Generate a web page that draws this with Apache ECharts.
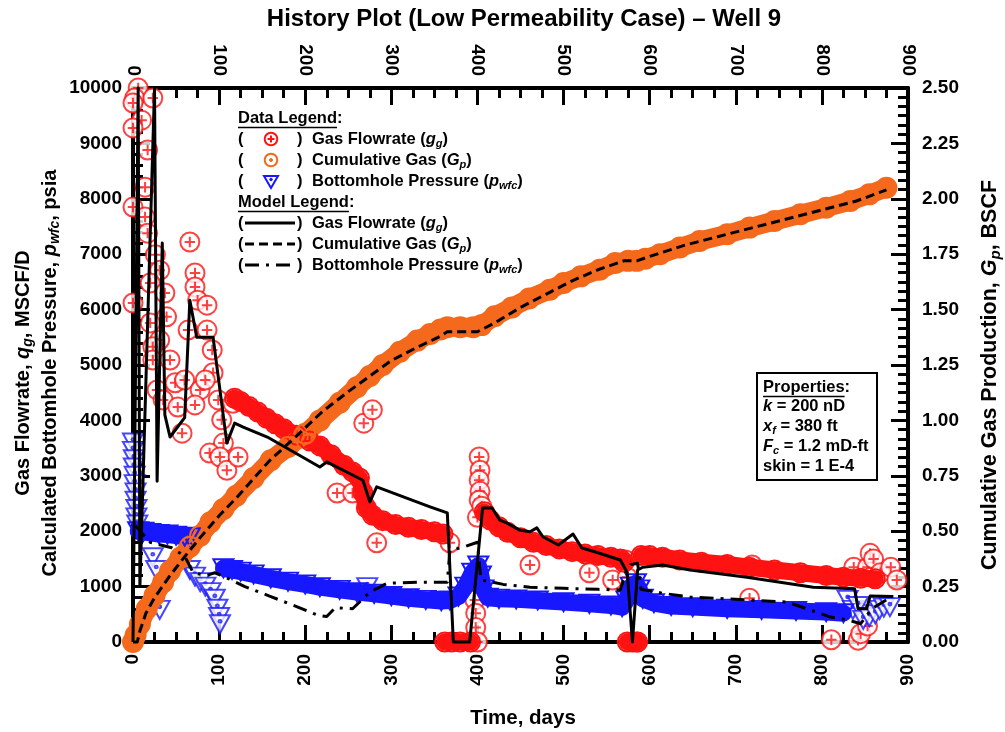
<!DOCTYPE html>
<html>
<head>
<meta charset="utf-8">
<script src="https://cdn.jsdelivr.net/npm/echarts@6/dist/echarts.min.js"></script>
<style>
  html, body { margin: 0; padding: 0; background: #fff; }
  #chart { width: 1005px; height: 732px; }
</style>
</head>
<body>
<div id="chart"></div>
<script>
// ---------------- field data, [day, value] ----------------
// Gas flowrate, MSCF/D: scattered / isolated observations
const gasRateScatter = [
  [6,10000],[2,9820],[23,9820],[0,9730],[10,9420],[0,9280],[17,8880],[14,8210],[0,7850],[14,7670],
  [17,7380],[26,6990],[31,6710],[20,6480],[37,6300],[0,6120],[39,5870],[20,5760],[31,5450],[23,5330],
  [23,5090],[43,5090],[28,4550],[49,4680],[35,4370],[52,4240],[57,3770],[60,4730],[64,5630],[66,7220],
  [72,6660],[72,6410],[75,6170],[86,6080],[86,5630],[92,5270],[93,4860],[78,4550],[72,4280],[84,4730],
  [99,4370],[103,4010],[105,3590],[89,3410],[101,3340],[109,3100],[116,4310],[122,3340],
  [237,2690],[255,2690],[268,3950],[278,4190],[283,1790],
  [368,1790],[397,760],[398,520],[398,260],[400,0],[402,3340],[403,3100],[402,2920],[403,2720],
  [402,2560],[400,2250],[405,2450],[461,1390],[530,1250],[557,1120],
  [572,1480],[574,1170],[585,0],
  [716,790],[719,1390],[811,40],[837,1350],[842,30],[845,150],[853,290],[853,1350],[856,1600],
  [857,1170],[860,1500],[868,1250],[880,1350],[887,1120]
];
// Gas flowrate, MSCF/D: continuous daily runs
const gasRateRuns = [
  [[118,4400],[125,4340],[135,4250],[145,4150],[155,4040],[165,3940],[175,3850],[190,3730],[205,3630],
   [217,3540],[230,3380],[245,3190],[255,3070],[263,2960],[267,2700],[271,2420],[278,2290],[290,2190],
   [305,2120],[320,2070],[335,2030],[350,1990],[360,1950]],
  [[362,0],[370,0],[380,0],[392,0]],
  [[408,2350],[415,2200],[425,2080],[435,1980],[450,1880],[465,1800],[480,1740],[495,1680],[510,1630],
   [525,1590],[540,1560],[555,1530],[566,1500],[570,1440]],
  [[574,0],[580,0],[586,0]],
  [[590,1560],[600,1560],[615,1530],[635,1480],[660,1440],[690,1400],[716,1350],[745,1300],[775,1250],
   [805,1200],[825,1170],[845,1150],[862,1140]]
];
// Bottomhole pressure, psia: isolated observations
const pressureScatter = [
  [0,3600],[0,3450],[1,3300],[1,3150],[2,3000],[2,2850],[3,2700],[3,2550],[4,2400],[4,2250],[5,2120],
  [23,1530],[27,1300],[31,580],[66,1300],[72,1180],[78,1080],[84,1000],[90,900],[95,780],[98,600],
  [100,450],[101,320],[272,990],
  [830,760],[836,580],[842,650],[848,400],[855,450],[862,500],[867,580],[872,620],[879,630]
];
// Bottomhole pressure, psia: continuous daily runs
const pressureRuns = [
  [[6,2000],[12,1990],[20,1970],[30,1950],[40,1940],[50,1920],[60,1900],[66,1890]],
  [[105,1330],[115,1300],[125,1270],[140,1220],[160,1150],[180,1090],[200,1040],[217,990],[240,940],
   [260,900],[280,870],[300,830],[320,790],[340,760],[358,740],[368,750],[378,820],[386,1000],[394,1250],
   [401,1380],[404,1200],[407,950],[412,800],[425,780],[445,770],[470,750],[500,720],[530,690],[555,660],
   [568,630],[573,750],[578,1000],[584,1060],[588,950],[592,780],[605,700],[625,650],[650,630],[690,600],
   [730,580],[770,560],[805,540],[825,520]]
];
// Cumulative gas, BSCF
const cumGas = [
  [0,0],[3,0.03],[8,0.08],[16,0.15],[25,0.21],[35,0.27],[43,0.32],[55,0.38],[66,0.43],[78,0.48],
  [90,0.54],[105,0.60],[120,0.66],[140,0.74],[160,0.82],[180,0.88],[200,0.94],[217,1.00],[240,1.08],
  [260,1.15],[275,1.20],[290,1.25],[310,1.31],[330,1.36],[345,1.39],[357,1.41],[365,1.42],[380,1.42],
  [395,1.42],[405,1.43],[420,1.47],[440,1.51],[460,1.55],[484,1.59],[500,1.62],[520,1.65],[542,1.68],
  [560,1.71],[575,1.72],[585,1.72],[595,1.73],[612,1.75],[635,1.78],[658,1.81],[690,1.84],[716,1.87],
  [745,1.90],[775,1.93],[805,1.96],[833,1.99],[855,2.02],[875,2.05]
];

// ---------------- model results ----------------
const modelRate = [
  [0,0],[6,10000],[8,1000],[25,10000],[28,2900],[34,7200],[37,4100],[43,3700],[60,4050],[66,6170],
  [74,5500],[93,5500],[109,3590],[118,3950],[128,3880],[156,3700],[217,3160],[225,3250],[267,2920],
  [275,2530],[283,2800],[345,2440],[365,2330],[372,0],[391,0],[406,2420],[417,2420],[426,2200],
  [434,2150],[449,2020],[461,1990],[469,2060],[476,1900],[494,1750],[511,1950],[521,1700],[538,1620],
  [566,1480],[574,1250],[580,0],[586,1300],[592,1350],[615,1390],[647,1300],[713,1170],[790,990],
  [838,960],[842,600],[852,600],[856,830],[883,820]
];
const modelCum = [
  [0,0],[5,0.0],[8,0.05],[15,0.13],[25,0.20],[43,0.30],[63,0.40],[80,0.48],[100,0.57],[120,0.65],
  [159,0.82],[190,0.93],[220,1.04],[250,1.13],[275,1.20],[300,1.27],[330,1.33],[357,1.38],[365,1.40],
  [400,1.40],[420,1.44],[450,1.51],[480,1.57],[510,1.63],[540,1.68],[570,1.72],[585,1.72],[600,1.74],
  [640,1.79],[680,1.83],[720,1.87],[760,1.91],[800,1.95],[840,1.99],[875,2.04]
];
const modelPressure = [
  [3,2100],[20,1800],[45,1700],[60,1550],[70,1250],[85,1200],[95,1250],[110,1150],[130,1000],[160,820],
  [190,640],[215,480],[225,460],[235,620],[255,600],[275,900],[295,1060],[330,1080],[365,1080],[368,1650],
  [385,1720],[400,1800],[404,1120],[430,1040],[461,990],[500,970],[540,950],[566,940],[572,1250],
  [578,1400],[586,1420],[590,950],[615,880],[647,810],[713,760],[760,720],[790,560],[810,450],[830,400],
  [845,330],[858,600],[875,760]
];

// ---------------- axis ranges ----------------
const timeRange = { min: 0, max: 900, step: 100 };
const rateRange = { min: 0, max: 10000, step: 1000 };
const cumRange  = { min: 0, max: 2.5, step: 0.25 };

// ---------------- styling ----------------
const RED = '#ff1212', BLUE = '#1818ff', ORANGE = '#f4691c', BLACK = '#000';
const FONT = '"Liberation Sans", Arial, Helvetica, sans-serif';
const SYM_PLUS = 'path://M0,-10A10,10,0,1,1,0,10A10,10,0,1,1,0,-10ZM-5.5,0L5.5,0M0,-5.5L0,5.5';
const SYM_DOT  = 'path://M0,-10A10,10,0,1,1,0,10A10,10,0,1,1,0,-10ZM0,-1.6A1.6,1.6,0,1,1,0,1.6A1.6,1.6,0,1,1,0,-1.6Z';
const SYM_TRI  = 'path://M-10,-8L10,-8L0,10ZM0,-3.4A1.4,1.4,0,1,1,0,-0.6A1.4,1.4,0,1,1,0,-3.4Z';
const DASH = [9, 5];
const DASH_DOT = [14, 7, 3, 7];

const base = { silent: true, animation: false, clip: false, emphasis: { disabled: true } };

// dense daily observations: a wide stroke through the run plus the outline markers
function runSeries(run, color, symbol, size, width, yIdx) {
  return Object.assign({}, base, {
    type: 'line', data: run, yAxisIndex: yIdx,
    symbol: symbol, symbolSize: size, showSymbol: true,
    lineStyle: { color: color, width: width, cap: 'round', join: 'round' },
    itemStyle: { color: 'rgba(255,255,255,0)', borderColor: color, borderWidth: 2 }
  });
}
function scatterSeries(data, color, symbol, size, yIdx) {
  return Object.assign({}, base, {
    type: 'scatter', data: data, yAxisIndex: yIdx,
    symbol: symbol, symbolSize: size,
    itemStyle: { color: '#fff', borderColor: color, borderWidth: 2 }
  });
}
function modelSeries(data, type, yIdx) {
  return Object.assign({}, base, {
    type: 'line', data: data, yAxisIndex: yIdx, showSymbol: false, symbol: 'none', z: 5,
    lineStyle: { color: BLACK, width: 3, type: type, join: 'round' }
  });
}

const series = [];
gasRateRuns.forEach(r => series.push(runSeries(r, RED, SYM_PLUS, 19, 17, 0)));
series.push(scatterSeries(gasRateScatter, RED, SYM_PLUS, 19, 0));
pressureRuns.forEach(r => series.push(runSeries(r, BLUE, SYM_TRI, [20, 18], 17, 0)));
series.push(scatterSeries(pressureScatter, BLUE, SYM_TRI, [20, 18], 0));
series.push(runSeries(cumGas, ORANGE, SYM_DOT, 20, 19, 1));
series.push(scatterSeries(cumGas.slice(-1), ORANGE, SYM_DOT, 19, 1));
series.push(modelSeries(modelRate, 'solid', 0));
series.push(modelSeries(modelCum, DASH, 1));
series.push(modelSeries(modelPressure, DASH_DOT, 0));

// ---------------- axes ----------------
function axis(extra) {
  return Object.assign({
    type: 'value',
    axisLine: { show: true, onZero: false, lineStyle: { color: BLACK, width: 4 } },
    axisTick: { show: true, inside: true, length: 17, lineStyle: { color: BLACK, width: 3 } },
    minorTick: { show: true, length: 10, lineStyle: { color: BLACK, width: 3 } },
    splitLine: { show: false },
    minorSplitLine: { show: false },
    axisLabel: { color: BLACK, fontFamily: FONT, fontWeight: 'bold', fontSize: 19 }
  }, extra);
}
const timeAxis = pos => axis({
  position: pos, min: timeRange.min, max: timeRange.max, interval: timeRange.step,
  minorTick: { show: true, splitNumber: 4, length: 10, lineStyle: { color: BLACK, width: 3 } },
  axisLabel: { color: BLACK, fontFamily: FONT, fontWeight: 'bold', fontSize: 19, rotate: 90, margin: 12,
               formatter: v => String(v) }
});

// ---------------- text helpers ----------------
function textWidth(str, font) {
  const ctx = document.createElement('canvas').getContext('2d');
  ctx.font = font;
  return ctx.measureText(str).width;
}
const rich = size => ({
  i: { fontStyle: 'italic', fontWeight: 'bold', fontSize: size, fontFamily: FONT, fill: BLACK },
  s: { fontStyle: 'italic', fontWeight: 'bold', fontSize: Math.round(size * 0.68), fontFamily: FONT,
       fill: BLACK, verticalAlign: 'bottom', lineHeight: Math.round(size * 0.62) }
});
function label(x, y, text, size, opts) {
  return {
    type: 'text', x: x, y: y, z: 100, silent: true,
    style: Object.assign({
      text: text, fill: BLACK, fontFamily: FONT, fontWeight: 'bold', fontSize: size,
      lineHeight: Math.round(size * 1.25), align: 'left', verticalAlign: 'middle', rich: rich(size)
    }, opts || {})
  };
}
function rotated(x, y, text, size) {
  const t = label(0, 0, text, size, { align: 'center' });
  t.x = x; t.y = y; t.rotation = Math.PI / 2;
  return t;
}
function underlined(x, y, head, size) {
  const w = textWidth(head, 'bold ' + size + 'px ' + FONT);
  return [
    label(x, y, head + ':', size),
    { type: 'line', z: 100, silent: true,
      shape: { x1: x, y1: y + size * 0.58, x2: x + w, y2: y + size * 0.58 },
      style: { stroke: BLACK, lineWidth: 1.6 } }
  ];
}

// ---------------- legend ----------------
const LX = 238, LS = 16.5;
const legendRows = [118, 139, 160, 181, 202, 223, 244, 265];
const graphics = [];
graphics.push(...underlined(LX, legendRows[0], 'Data Legend', LS));
const dataKeys = [
  { y: legendRows[1], color: RED, kind: 'plus', text: 'Gas Flowrate ({i|g}{s|g})' },
  { y: legendRows[2], color: ORANGE, kind: 'dot', text: 'Cumulative Gas ({i|G}{s|p})' },
  { y: legendRows[3], color: BLUE, kind: 'tri', text: 'Bottomhole Pressure ({i|p}{s|wfc})' }
];
dataKeys.forEach(k => {
  graphics.push(label(LX, k.y, '(', LS));
  graphics.push(label(297, k.y, ')', LS));
  graphics.push(label(312, k.y, k.text, LS));
  const cx = 271, cy = k.y, st = { fill: '#fff', stroke: k.color, lineWidth: 2 };
  if (k.kind === 'tri') {
    graphics.push({ type: 'polygon', z: 100, silent: true,
      shape: { points: [[cx - 7, cy - 5], [cx + 7, cy - 5], [cx, cy + 7]] }, style: st });
    graphics.push({ type: 'circle', z: 100, silent: true, shape: { cx: cx, cy: cy - 1.5, r: 1.3 },
      style: { fill: k.color, stroke: k.color, lineWidth: 1 } });
  } else {
    graphics.push({ type: 'circle', z: 100, silent: true, shape: { cx: cx, cy: cy, r: 6.3 }, style: st });
    if (k.kind === 'plus') {
      graphics.push({ type: 'line', z: 100, silent: true, shape: { x1: cx - 3.5, y1: cy, x2: cx + 3.5, y2: cy },
        style: { stroke: k.color, lineWidth: 2 } });
      graphics.push({ type: 'line', z: 100, silent: true, shape: { x1: cx, y1: cy - 3.5, x2: cx, y2: cy + 3.5 },
        style: { stroke: k.color, lineWidth: 2 } });
    } else {
      graphics.push({ type: 'circle', z: 100, silent: true, shape: { cx: cx, cy: cy, r: 1.5 },
        style: { fill: k.color, stroke: k.color, lineWidth: 1 } });
    }
  }
});
graphics.push(...underlined(LX, legendRows[4], 'Model Legend', LS));
const modelKeys = [
  { y: legendRows[5], dash: 'solid', text: 'Gas Flowrate ({i|g}{s|g})' },
  { y: legendRows[6], dash: DASH, text: 'Cumulative Gas ({i|G}{s|p})' },
  { y: legendRows[7], dash: DASH_DOT, text: 'Bottomhole Pressure ({i|p}{s|wfc})' }
];
modelKeys.forEach(k => {
  graphics.push(label(LX, k.y, '(', LS));
  graphics.push(label(297, k.y, ')', LS));
  graphics.push(label(312, k.y, k.text, LS));
  graphics.push({ type: 'line', z: 100, silent: true, shape: { x1: 245, y1: k.y, x2: 295, y2: k.y },
    style: { stroke: BLACK, lineWidth: 3.2, lineDash: k.dash === 'solid' ? null : k.dash } });
});

// ---------------- properties box ----------------
graphics.push({ type: 'rect', z: 99, silent: true, shape: { x: 757, y: 373, width: 120, height: 107 },
  style: { fill: '#fff', stroke: BLACK, lineWidth: 2 } });
graphics.push(...underlined(763, 387, 'Properties', LS));
[
  [406, '{i|k} = 200 nD'],
  [426, '{i|x}{s|f} = 380 ft'],
  [446, '{i|F}{s|c} = 1.2 mD-ft'],
  [466, 'skin = 1 E-4']
].forEach(r => graphics.push(label(763, r[0], r[1], LS)));

// ---------------- titles ----------------
graphics.push(label(524, 19, 'History Plot (Low Permeability Case) \u2013 Well 9', 24, { align: 'center' }));
graphics.push(label(523, 718, 'Time, days', 20.5, { align: 'center' }));
graphics.push(rotated(23, 373, 'Gas Flowrate, {i|q}{s|g}, MSCF/D', 20));
graphics.push(rotated(50, 373, 'Calculated Bottomhole Pressure, {i|p}{s|wfc}, psia', 20));
graphics.push(rotated(990, 375, 'Cumulative Gas Production, {i|G}{s|p}, BSCF', 21.5));

const chart = echarts.init(document.getElementById('chart'), null, { renderer: 'canvas' });
chart.setOption({
  animation: false,
  backgroundColor: '#fff',
  grid: { left: 133, right: 97, top: 88, bottom: 90, containLabel: false, outerBoundsMode: 'none' },
  xAxis: [timeAxis('bottom'), timeAxis('top')],
  yAxis: [
    axis({ position: 'left', min: rateRange.min, max: rateRange.max, interval: rateRange.step,
      minorTick: { show: true, splitNumber: 5, length: 10, lineStyle: { color: BLACK, width: 3 } },
      axisLabel: { color: BLACK, fontFamily: FONT, fontWeight: 'bold', fontSize: 19, margin: 11,
                   formatter: v => String(v) } }),
    axis({ position: 'right', min: cumRange.min, max: cumRange.max, interval: cumRange.step,
      minorTick: { show: true, splitNumber: 6, length: 10, lineStyle: { color: BLACK, width: 3 } },
      axisLabel: { color: BLACK, fontFamily: FONT, fontWeight: 'bold', fontSize: 19, margin: 14,
                   formatter: v => v.toFixed(2) } })
  ],
  series: series,
  graphic: graphics
});
</script>
</body>
</html>
